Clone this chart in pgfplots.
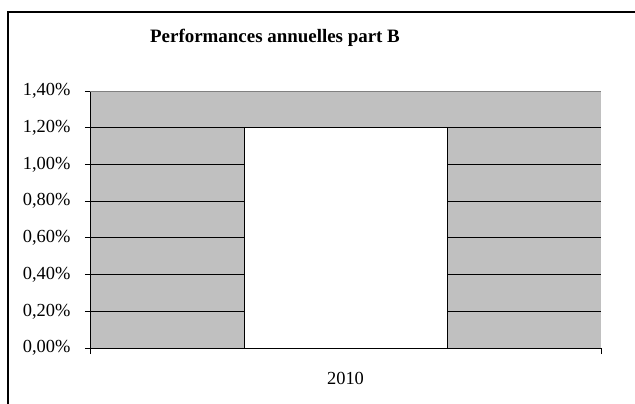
\documentclass[border=0pt]{standalone}
\usepackage{fontspec}
\setmainfont{Liberation Serif}
\usepackage{pgfplots}
\pgfplotsset{compat=1.18}
\definecolor{plotgray}{RGB}{192,192,192}
\begin{document}
\begin{tikzpicture}
\begin{axis}[
  name=ax,
  scale only axis,
  width=511bp, height=257bp,
  xmin=-0.5, xmax=0.5,
  ymin=0, ymax=1.4,
  ytick={0,0.2,0.4,0.6,0.8,1.0,1.2,1.4},
  yticklabel={\pgfmathprintnumber[fixed,fixed zerofill,precision=2,use comma]{\tick}\%},
  /pgf/number format/assume math mode=true,
  ymajorgrids,
  major grid style={black, line width=0.8bp},
  xtick={0}, xticklabels={2010},
  x tick style={draw=none},
  extra x ticks={-0.5,0.5},
  extra x tick labels={},
  extra x tick style={major tick length=6bp, tick align=outside, x tick style={draw=black, line width=0.8bp}, grid=none},
  y tick style={black, line width=0.8bp},
  major tick length=5bp,
  tick align=outside,
  tick pos=left,
  axis line style={line width=0.8bp},
  axis x line*=bottom, axis y line*=left,
  axis background/.style={fill=plotgray},
  ticklabel style={font=\fontsize{18.5}{21}\selectfont},
  yticklabel style={xshift=-11bp},
  xticklabel style={yshift=-16bp},
  clip=false,
]
\addplot[ybar, bar width=203bp, fill=white, draw=black, line width=1bp] coordinates {(0,1.2)};
\draw[gray, line width=0.8bp] (axis cs:-0.5,1.4) -- (axis cs:0.5,1.4);
\end{axis}
\useasboundingbox ([xshift=-90bp,yshift=-55bp]ax.south west) rectangle ([xshift=34bp,yshift=91bp]ax.north east);
\draw[black, line width=1.5bp] ([xshift=-82bp,yshift=-60bp]ax.south west) -- ([xshift=-82bp,yshift=79bp]ax.north west) -- ([xshift=40bp,yshift=79bp]ax.north east);
\node[font=\bfseries\fontsize{19}{22}\selectfont] at ([xshift=185bp,yshift=53bp]ax.north west) {Performances annuelles part B};
\end{tikzpicture}
\end{document}
